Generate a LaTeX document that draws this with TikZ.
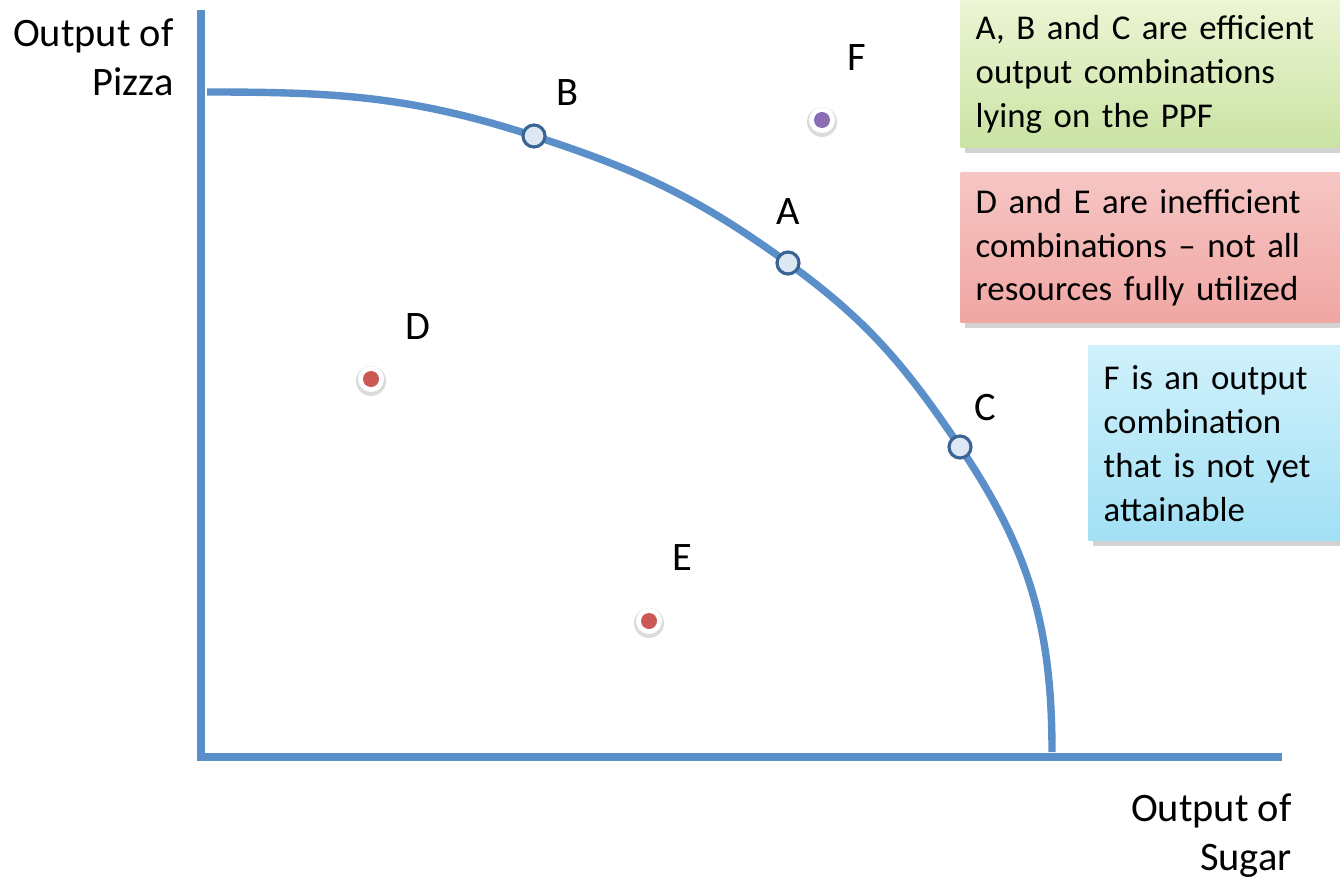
\documentclass[tikz,border=0pt]{standalone}
\usepackage{fontspec}
\setmainfont{Carlito}
\usetikzlibrary{shadows}
\definecolor{ppfblue}{RGB}{91,143,201}
\definecolor{ppfdark}{RGB}{58,100,150}
\definecolor{ppffill}{RGB}{222,232,244}
\definecolor{dotred}{RGB}{203,88,84}
\definecolor{dotpurple}{RGB}{136,110,180}
\begin{document}
\begin{tikzpicture}[x=0.01cm,y=-0.01cm,
  axis line/.style={draw=ppfblue,line width=2.3pt},
  ppf line/.style={draw=ppfblue,line width=2.1pt},
  on ppf/.style={circle,draw=ppfdark,fill=ppffill,line width=0.9pt,minimum size=0.22cm,inner sep=0pt},
  off ppf/.style={circle,minimum size=0.16cm,inner sep=0pt},
  halo/.style={fill=white},
  halo shadow/.style={fill=black!14},
  note box/.style={rectangle,anchor=north west,align=left,inner xsep=0.15cm,
    font=\fontsize{9.9}{12.5}\selectfont,
    drop shadow={shadow xshift=1.2pt,shadow yshift=-1.5pt,opacity=0.35}},
  letter/.style={font=\fontsize{11.5}{14}\selectfont},
  axis label/.style={align=right,anchor=east,font=\fontsize{11.5}{13.9}\selectfont}]
  \useasboundingbox (0,0) rectangle (1340,882);

  \draw[axis line] (201,10) -- (201,757) -- (1282,757);

  \coordinate (top) at (207,92);
  \coordinate (pb) at (534,136);
  \coordinate (pa) at (788,263);
  \coordinate (pc) at (960,447);
  \coordinate (bottom) at (1052,752);
  \draw[ppf line] (top) to[out=0,in=162] (pb) to[out=-18,in=144] (pa)
    to[out=-36,in=124] (pc) to[out=-56,in=90] (bottom);

  \node[on ppf] (b) at (pb) {};
  \node[on ppf] (a) at (pa) {};
  \node[on ppf] (c) at (pc) {};

  \fill[halo shadow] (822,122) circle (15);
  \fill[halo] (822,120) circle (13);
  \node[off ppf,fill=dotpurple] (f) at (822,120) {};
  \fill[halo shadow] (371,381) circle (15);
  \fill[halo] (371,379) circle (13);
  \node[off ppf,fill=dotred] (d) at (371,379) {};
  \fill[halo shadow] (649,623) circle (15);
  \fill[halo] (649,621) circle (13);
  \node[off ppf,fill=dotred] (e) at (649,621) {};

  \node[letter] (lb) at (567,93) {B};
  \node[letter] (la) at (788,212) {A};
  \node[letter] (lc) at (985,408) {C};
  \node[letter] (lf) at (857,58) {F};
  \node[letter] (ld) at (418,327) {D};
  \node[letter] (le) at (682,558) {E};

  \node[axis label] (ylab) at (186,57) {Output of\\Pizza};
  \node[axis label] (xlab) at (1304,836) {Output of\\Sugar};

  \node[note box,text width=3.5cm,minimum height=1.47cm,
    top color={rgb,255:red,236;green,245;blue,212},bottom color={rgb,255:red,202;green,227;blue,164}]
    (effbox) at (960,0) {A, B and C are efficient\\output combinations\\lying on the PPF};
  \node[note box,text width=3.5cm,minimum height=1.5cm,
    top color={rgb,255:red,246;green,198;blue,196},bottom color={rgb,255:red,240;green,166;blue,163}]
    (ineffbox) at (960,172) {D and E are inefficient\\combinations -- not all\\resources fully utilized};
  \node[note box,text width=2.22cm,minimum height=1.95cm,
    top color={rgb,255:red,208;green,241;blue,251},bottom color={rgb,255:red,162;green,224;blue,245}]
    (unattbox) at (1088,345) {F is an output\\combination\\that is not yet\\attainable};
\end{tikzpicture}
\end{document}
